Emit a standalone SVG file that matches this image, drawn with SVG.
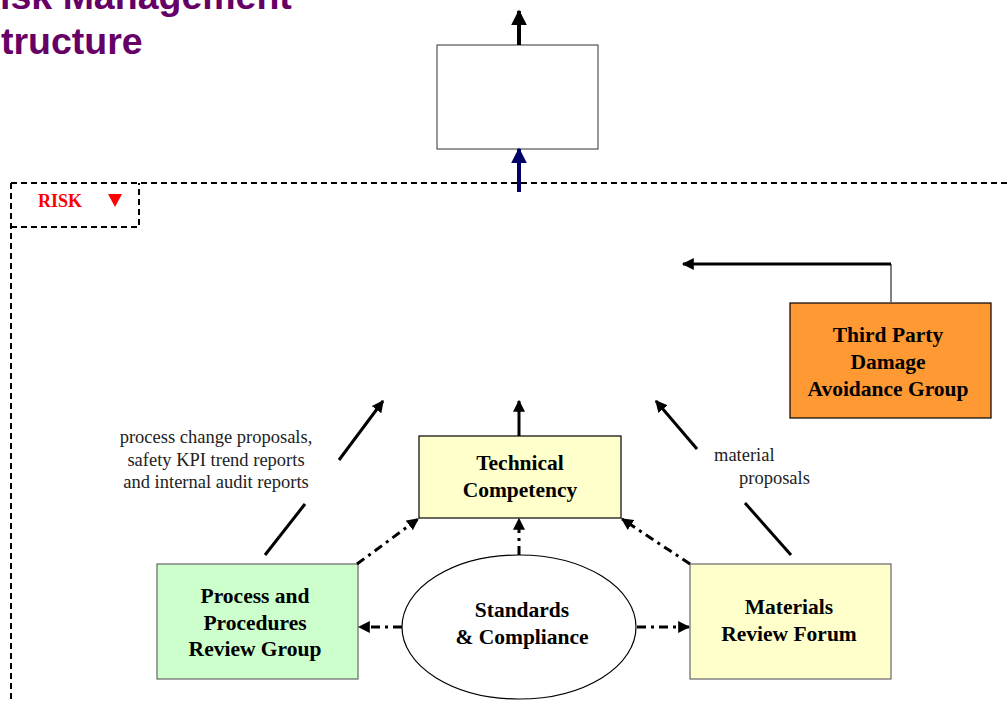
<svg xmlns="http://www.w3.org/2000/svg" width="1007" height="702" viewBox="0 0 1007 702">
<style>
.title{font-family:"Liberation Sans",Arial,sans-serif;font-weight:bold;font-size:37.5px;fill:#660066}
.lbl{font-family:"Liberation Serif","Times New Roman",serif;font-weight:bold;font-size:21.5px;fill:#000;text-anchor:middle}
.note{font-family:"Liberation Serif","Times New Roman",serif;font-size:18.5px;fill:#222}
.box{stroke:#000;stroke-width:1.2}
.solid{stroke:#000;stroke-width:3;fill:none}
.dd{stroke:#000;stroke-width:3;fill:none;stroke-dasharray:9,5,3,5}
.frame{stroke:#000;stroke-width:2;fill:none;stroke-dasharray:6,4}
</style>
<defs>
<marker id="ah" viewBox="0 0 10 10" refX="9" refY="5" markerWidth="4" markerHeight="4" orient="auto" markerUnits="strokeWidth">
<path d="M0,0 L10,5 L0,10 z" fill="#000"/>
</marker>
<marker id="ahn" viewBox="0 0 10 10" refX="9" refY="5" markerWidth="4" markerHeight="4" orient="auto" markerUnits="strokeWidth">
<path d="M0,0 L10,5 L0,10 z" fill="#000066"/>
</marker>
</defs>
<rect width="1007" height="702" fill="#fff"/>
<text class="title" x="-27" y="9">Risk Management</text>
<text class="title" x="-24" y="54">Structure</text>

<g id="frame">
<path class="frame" d="M11,183 H1007 M11,183 V702"/>
<path class="frame" d="M11,227 H139 V183"/>
<text x="38" y="207" style="font-family:'Liberation Serif','Times New Roman',serif;font-weight:bold;font-size:18px;fill:#ff0000">RISK</text>
<path d="M108,194 H122 L115,207 z" fill="#ff0000"/>
</g>

<g id="top-box">
<rect x="437" y="45" width="161" height="104" fill="#fff" stroke="#333" stroke-width="1"/>
</g>

<g id="third-party">
<rect class="box" x="790" y="303" width="201" height="115" fill="#ff9933"/>
<text class="lbl" x="888" y="342">Third Party</text>
<text class="lbl" x="888" y="369">Damage</text>
<text class="lbl" x="888" y="396">Avoidance Group</text>
</g>

<g id="technical-competency">
<rect class="box" x="419" y="436" width="202" height="82" fill="#ffffcc"/>
<text class="lbl" x="520" y="470">Technical</text>
<text class="lbl" x="520" y="497">Competency</text>
</g>

<g id="process-procedures">
<rect x="157" y="564" width="201" height="115" fill="#ccffcc" stroke="#666" stroke-width="1.2"/>
<text class="lbl" x="255" y="603">Process and</text>
<text class="lbl" x="255" y="630">Procedures</text>
<text class="lbl" x="255" y="656">Review Group</text>
</g>

<g id="materials-review">
<rect x="690" y="564" width="201" height="115" fill="#ffffcc" stroke="#666" stroke-width="1.2"/>
<text class="lbl" x="789" y="614">Materials</text>
<text class="lbl" x="789" y="641">Review Forum</text>
</g>

<g id="standards">
<ellipse cx="519" cy="627" rx="117" ry="72" fill="#fff" stroke="#000" stroke-width="1.2"/>
<text class="lbl" x="522" y="617">Standards</text>
<text class="lbl" x="522" y="644">&amp; Compliance</text>
</g>

<g id="connectors">
<line x1="519" y1="45" x2="519" y2="11" stroke="#000" stroke-width="4" marker-end="url(#ah)"/>
<line x1="519" y1="192" x2="519" y2="149" stroke="#000066" stroke-width="4" marker-end="url(#ahn)"/>
<path d="M891,302 V264" stroke="#000" stroke-width="1" fill="none"/>
<line class="solid" x1="891" y1="264" x2="683" y2="264" marker-end="url(#ah)"/>
<line class="solid" x1="519" y1="436" x2="519" y2="401" marker-end="url(#ah)"/>
<line class="solid" x1="265" y1="555" x2="305" y2="504"/>
<line class="solid" x1="339" y1="460" x2="383" y2="401" marker-end="url(#ah)"/>
<line class="solid" x1="791" y1="555" x2="745" y2="503"/>
<line class="solid" x1="697" y1="449" x2="656" y2="401" marker-end="url(#ah)"/>
<line class="dd" x1="357" y1="564" x2="418" y2="519" marker-end="url(#ah)"/>
<line class="dd" x1="690" y1="564" x2="622" y2="519" marker-end="url(#ah)"/>
<line class="dd" x1="519" y1="555" x2="519" y2="519" marker-end="url(#ah)"/>
<line class="dd" x1="402" y1="627" x2="359" y2="627" marker-end="url(#ah)"/>
<line class="dd" x1="637" y1="627" x2="689" y2="627" marker-end="url(#ah)"/>
<text class="note" x="216" y="443" text-anchor="middle">process change proposals,</text>
<text class="note" x="216" y="466" text-anchor="middle">safety KPI trend reports</text>
<text class="note" x="216" y="488" text-anchor="middle">and internal audit reports</text>
<text class="note" x="714" y="461">material</text>
<text class="note" x="739" y="484">proposals</text>
</g>
</svg>
